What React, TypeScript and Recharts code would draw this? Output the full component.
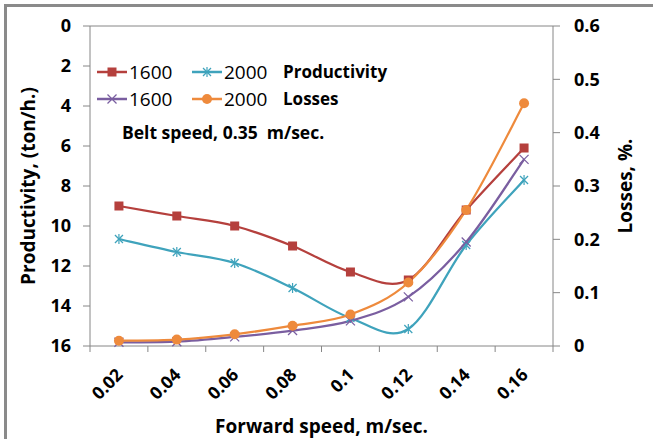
import React from "react";
import { LineChart, Line, XAxis, YAxis, ReferenceLine } from "recharts";

const SPEEDS = [0.02, 0.04, 0.06, 0.08, 0.1, 0.12, 0.14, 0.16];
const X_TICKS = [0.01, 0.02, 0.03, 0.04, 0.05, 0.06, 0.07, 0.08, 0.09, 0.1, 0.11, 0.12, 0.13, 0.14, 0.15, 0.16, 0.17];
const PROD_1600 = [9.0, 9.5, 10.0, 11.0, 12.3, 12.7, 9.2, 6.1];
const PROD_2000 = [10.65, 11.3, 11.85, 13.1, 14.6, 15.15, 10.95, 7.7];
const LOSS_1600 = [0.007, 0.008, 0.017, 0.029, 0.047, 0.092, 0.195, 0.35];
const LOSS_2000 = [0.01, 0.012, 0.022, 0.038, 0.059, 0.119, 0.255, 0.455];
const PROD_TICKS = [0, 2, 4, 6, 8, 10, 12, 14, 16];
const LOSS_TICKS = [0, 0.1, 0.2, 0.3, 0.4, 0.5, 0.6];

const RED = "#B5403D";
const TEAL = "#3FA3BC";
const PURPLE = "#7A5EA0";
const ORANGE = "#EE8A3C";
const AXIS = "#868686";
const FONT = "'Open Sans', Lato, sans-serif";

const data = SPEEDS.map((s, i) => ({
  speed: s,
  p1600: PROD_1600[i],
  p2000: PROD_2000[i],
  l1600: LOSS_1600[i],
  l2000: LOSS_2000[i],
}));

// excel style smoothing (cubic bezier, catmull-rom like)
const excelCurve = (context: any) => {
  let pts: number[][] = [];
  return {
    areaStart() {},
    areaEnd() {},
    lineStart() {
      pts = [];
    },
    point(x: number, y: number) {
      pts.push([+x, +y]);
    },
    lineEnd() {
      const n = pts.length;
      if (!n) return;
      context.moveTo(pts[0][0], pts[0][1]);
      for (let i = 0; i < n - 1; i++) {
        const p0 = pts[Math.max(i - 1, 0)];
        const p1 = pts[i];
        const p2 = pts[i + 1];
        const p3 = pts[Math.min(i + 2, n - 1)];
        context.bezierCurveTo(
          p1[0] + (p2[0] - p0[0]) / 6,
          p1[1] + (p2[1] - p0[1]) / 6,
          p2[0] - (p3[0] - p1[0]) / 6,
          p2[1] - (p3[1] - p1[1]) / 6,
          p2[0],
          p2[1]
        );
      }
    },
  };
};

const Marker = ({ kind, cx, cy, color }: any) => {
  if (kind === "square")
    return <rect x={cx - 4.5} y={cy - 4.5} width={9} height={9} fill={color} />;
  if (kind === "circle") return <circle cx={cx} cy={cy} r={5} fill={color} />;
  if (kind === "x")
    return (
      <g stroke={color} strokeWidth={1.2}>
        <line x1={cx - 4.5} y1={cy - 4.5} x2={cx + 4.5} y2={cy + 4.5} />
        <line x1={cx - 4.5} y1={cy + 4.5} x2={cx + 4.5} y2={cy - 4.5} />
      </g>
    );
  return (
    <g stroke={color} strokeWidth={1.2}>
      <line x1={cx - 4} y1={cy - 4} x2={cx + 4} y2={cy + 4} />
      <line x1={cx - 4} y1={cy + 4} x2={cx + 4} y2={cy - 4} />
      <line x1={cx} y1={cy - 5} x2={cx} y2={cy + 5} />
    </g>
  );
};

const dotOf = (kind: string, color: string) => (props: any) =>
  <Marker key={`${kind}-${props.index}`} kind={kind} cx={props.cx} cy={props.cy} color={color} />;

const XTick = (props: any) => {
  const { x, y, index, payload } = props;
  if (index % 2 === 0) {
    return <line x1={x} x2={x} y1={y} y2={y + 6} stroke={AXIS} />;
  }
  return (
    <text
      x={x + 5}
      y={y + 30}
      textAnchor="end"
      transform={`rotate(-45, ${x + 5}, ${y + 30})`}
      fontFamily={FONT}
      fontWeight="bold"
      fontSize={17.5}
      fill="#000"
    >
      {String(payload.value)}
    </text>
  );
};

const tickStyle = { fontFamily: FONT, fontWeight: "bold", fontSize: 18, fill: "#000" } as any;
const titleStyle = { textAnchor: "middle", fontFamily: FONT, fontWeight: "bold", fontSize: 19, fill: "#000" } as any;

const legendRows = [
  { y: 72, items: [{ kind: "square", color: RED, x: 97 }, { kind: "star", color: TEAL, x: 192 }], label: "Productivity" },
  { y: 99, items: [{ kind: "x", color: PURPLE, x: 97 }, { kind: "circle", color: ORANGE, x: 192 }], label: "Losses" },
];

export default function App() {
  return (
    <div style={{ position: "absolute", left: 0, top: 0, width: 653, height: 439, background: "#fff" }}>
      <div
        style={{
          position: "absolute",
          left: 4,
          top: 4,
          width: 660,
          height: 450,
          borderTop: "3px solid #8a8a8a",
          borderLeft: "3px solid #8a8a8a",
        }}
      />
      <LineChart width={653} height={439} data={data} margin={{ top: 26, right: 0, bottom: 0, left: 0 }}>
        <XAxis
          dataKey="speed"
          type="number"
          domain={[0.01, 0.17]}
          ticks={X_TICKS}
          interval={0}
          tickLine={false}
          tickSize={0}
          tickMargin={0}
          height={93}
          stroke={AXIS}
          tick={<XTick />}
          label={{ value: "Forward speed, m/sec.", position: "insideBottom", offset: 6, style: titleStyle }}
        />
        <YAxis
          yAxisId="prod"
          type="number"
          domain={[0, 16]}
          reversed
          ticks={PROD_TICKS}
          interval={0}
          width={90}
          tickSize={7}
          tickMargin={12}
          stroke={AXIS}
          tick={tickStyle}
          label={{ value: "Productivity, (ton/h.)", angle: -90, position: "insideLeft", offset: 28, style: titleStyle }}
        />
        <YAxis
          yAxisId="loss"
          orientation="right"
          type="number"
          domain={[0, 0.6]}
          ticks={LOSS_TICKS}
          interval={0}
          width={100}
          tickSize={7}
          tickMargin={14}
          stroke={AXIS}
          tick={tickStyle}
          label={{ value: "Losses, %.", angle: -90, position: "insideRight", offset: 28, style: titleStyle }}
        />
        <ReferenceLine yAxisId="prod" y={0} stroke={AXIS} />
        <Line yAxisId="prod" dataKey="p1600" type={excelCurve as any} stroke={RED} strokeWidth={2.25} dot={dotOf("square", RED)} isAnimationActive={false} />
        <Line yAxisId="prod" dataKey="p2000" type={excelCurve as any} stroke={TEAL} strokeWidth={2.25} dot={dotOf("star", TEAL)} isAnimationActive={false} />
        <Line yAxisId="loss" dataKey="l1600" type={excelCurve as any} stroke={PURPLE} strokeWidth={2.25} dot={dotOf("x", PURPLE)} isAnimationActive={false} />
        <Line yAxisId="loss" dataKey="l2000" type={excelCurve as any} stroke={ORANGE} strokeWidth={2.25} dot={dotOf("circle", ORANGE)} isAnimationActive={false} />
      </LineChart>
      <svg width={653} height={439} style={{ position: "absolute", left: 0, top: 0, pointerEvents: "none" }}>
        {legendRows.map((row) => (
          <g key={row.label}>
            {row.items.map((it, j) => (
              <g key={j}>
                <line x1={it.x} x2={it.x + 30} y1={row.y} y2={row.y} stroke={it.color} strokeWidth={2.5} />
                <Marker kind={it.kind} cx={it.x + 15} cy={row.y} color={it.color} />
                <text x={it.x + 32} y={row.y + 7} fontFamily={FONT} fontSize={19} fill="#000">
                  {j === 0 ? "1600" : "2000"}
                </text>
              </g>
            ))}
            <text x={283} y={row.y + 6} fontFamily={FONT} fontWeight="bold" fontSize={17} fill="#000">
              {row.label}
            </text>
          </g>
        ))}
        <text x={122} y={139} fontFamily={FONT} fontWeight="bold" fontSize={17.5} fill="#000" style={{ whiteSpace: "pre" }}>
          Belt speed, 0.35  m/sec.
        </text>
      </svg>
    </div>
  );
}
